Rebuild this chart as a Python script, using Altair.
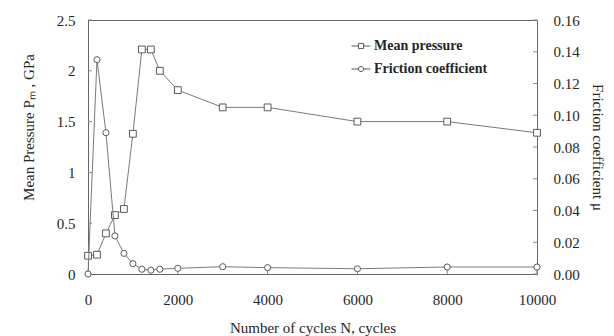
import altair as alt
import pandas as pd

# Measured series
cycles = [0, 200, 400, 600, 800, 1000, 1200, 1400, 1600, 2000, 3000, 4000, 6000, 8000, 10000]
mean_pressure = [0.18, 0.19, 0.40, 0.58, 0.64, 1.38, 2.21, 2.21, 2.00, 1.81, 1.64, 1.64, 1.50, 1.50, 1.39]
friction = [0.0, 0.135, 0.089, 0.024, 0.013, 0.0065, 0.003, 0.0024, 0.003, 0.0036, 0.0046, 0.004, 0.0033, 0.0044, 0.0044]

series_names = ["Mean pressure", "Friction coefficient"]
x_ticks = [0, 2000, 4000, 6000, 8000, 10000]
p_ticks = [0, 0.5, 1, 1.5, 2, 2.5]
mu_ticks = [0, 0.02, 0.04, 0.06, 0.08, 0.10, 0.12, 0.14, 0.16]

df = pd.DataFrame({"N": cycles, "P": mean_pressure, "mu": friction})
df_xt = pd.DataFrame({"N": x_ticks})
df_pt = pd.DataFrame({"P": p_ticks})
df_mt = pd.DataFrame({"mu": mu_ticks})
df_leg = pd.DataFrame({"series": series_names})

W, H = 449, 254
FONT = "Liberation Serif"
LINE = "#7a7a7a"
MARK = "#5a5a5a"
TICK = "#8a8a8a"
TEXT = "#262626"
FS = 15

axis_style = dict(labelFont=FONT, labelFontSize=FS, labelColor=TEXT,
                  titleFont=FONT, titleFontSize=FS, titleColor=TEXT, titleFontWeight="normal",
                  ticks=False, tickSize=0, grid=False, labelOverlap=False, labelFlush=False)

x_scale = alt.Scale(domain=[0, 10000], nice=False)
x_axis = alt.Axis(values=x_ticks, format="d", title="Number of cycles N, cycles",
                  labelPadding=18, titlePadding=13, **axis_style)

p_scale = alt.Scale(domain=[0, 2.5], nice=False)
p_axis = alt.Axis(values=p_ticks, format="~g", title="Mean Pressure Pₘ , GPa", orient="left",
                  labelPadding=13, titlePadding=20, titleY=107, **axis_style)

mu_scale = alt.Scale(domain=[0, 0.16], nice=False)
mu_axis = alt.Axis(values=mu_ticks, format=".2f", title="Friction coefficient μ", orient="right",
                   labelPadding=16, titlePadding=10, **axis_style)


def xq(field):
    return alt.X(field, type="quantitative", scale=x_scale, axis=x_axis)


def yp(field):
    return alt.Y(field, type="quantitative", scale=p_scale, axis=p_axis)


def ym(field):
    return alt.Y(field, type="quantitative", scale=mu_scale, axis=mu_axis)


# Mean pressure (left axis)
p_line = alt.Chart(df).mark_line(color=LINE, strokeWidth=1).encode(x=xq("N"), y=yp("P"))
p_pts = alt.Chart(df).mark_point(shape="square", size=46, filled=True, fill="white",
                                 stroke=MARK, strokeWidth=1, opacity=1).encode(x=xq("N"), y=yp("P"))
p_tk = alt.Chart(df_pt).mark_rule(color=TICK, strokeWidth=1).encode(
    y=yp("P"), x=alt.value(0), x2=alt.value(4))
x_tk = alt.Chart(df_xt).mark_rule(color=TICK, strokeWidth=1).encode(
    x=xq("N"), y=alt.value(H - 4), y2=alt.value(H))
left = alt.layer(p_line, p_tk, x_tk, p_pts)

# Friction coefficient (right axis)
mu_line = alt.Chart(df).mark_line(color=LINE, strokeWidth=1).encode(x=xq("N"), y=ym("mu"))
mu_pts = alt.Chart(df).mark_point(shape="circle", size=38, filled=True, fill="white",
                                  stroke=MARK, strokeWidth=1, opacity=1).encode(x=xq("N"), y=ym("mu"))
mu_tk = alt.Chart(df_mt).mark_rule(color=TICK, strokeWidth=1).encode(
    y=ym("mu"), x=alt.value(W - 4), x2=alt.value(W))
right = alt.layer(mu_line, mu_tk, mu_pts)

# Legend symbols: a short line through a small hollow marker
sq_path = "M-1,0H-0.27M0.27,0H1M-0.27,-0.27H0.27V0.27H-0.27Z"
ci_path = "M-1,0H-0.27M0.27,0H1M0.27,0A0.27,0.27,0,1,1,-0.27,0A0.27,0.27,0,1,1,0.27,0Z"
legend_layer = alt.Chart(df_leg).mark_point(opacity=0).encode(
    shape=alt.Shape(
        "series:N",
        scale=alt.Scale(domain=series_names, range=[sq_path, ci_path]),
        legend=alt.Legend(title=None, orient="none", legendX=263, legendY=16,
                          symbolSize=361, symbolOpacity=1, symbolStrokeColor=MARK,
                          symbolFillColor="transparent", symbolStrokeWidth=1,
                          labelFont=FONT, labelFontSize=14, labelFontWeight="bold",
                          labelColor=TEXT, labelOffset=3, rowPadding=6, padding=0),
    ))

chart = (
    alt.layer(left, right, legend_layer)
    .resolve_scale(y="independent", shape="independent")
    .properties(
        width=W, height=H,
        autosize=alt.AutoSizeParams(type="none"),
        padding={"left": 88, "top": 20, "right": 614 - 88 - W, "bottom": 336 - 20 - H},
    )
    .configure(background="white")
    .configure_view(stroke="#666666", strokeWidth=1)
    .configure_axis(domainColor="#666666", domainWidth=1)
)

chart.save("out.html", embed_options={"renderer": "svg", "actions": False})
